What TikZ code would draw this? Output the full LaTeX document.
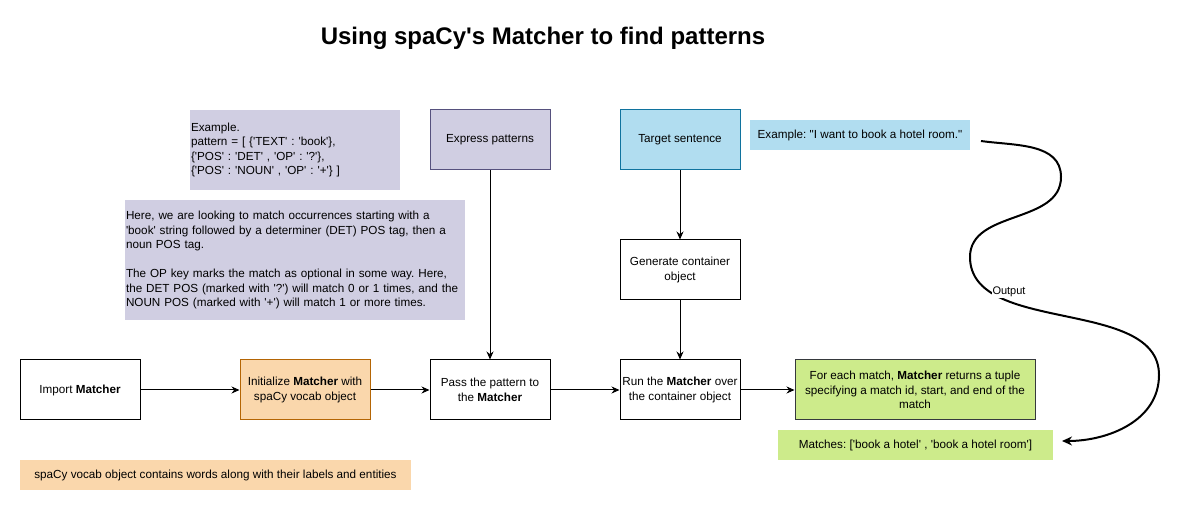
\documentclass[tikz,border=0pt]{standalone}
\usepackage{fontspec}
\setmainfont{Liberation Sans}[Ligatures=TeXOff]
\usetikzlibrary{arrows.meta}
\frenchspacing

\definecolor{purplefill}{HTML}{D0CEE2}
\definecolor{purpleline}{HTML}{56517E}
\definecolor{bluefill}{HTML}{B1DDF0}
\definecolor{blueline}{HTML}{10739E}
\definecolor{orangefill}{HTML}{FAD7AC}
\definecolor{orangeline}{HTML}{B46504}
\definecolor{greenfill}{HTML}{CDEB8B}
\definecolor{greenline}{HTML}{36393D}

\newcommand{\boxfont}{\fontsize{11.7}{14.5}\selectfont}

\begin{document}
\begin{tikzpicture}[x=1pt, y=-1pt,
box/.style = {draw, line width=1pt, minimum width=120pt, minimum height=60pt, inner sep=2pt, align=center, font=\boxfont},
note/.style = {minimum height=30pt, inner sep=2pt, align=center, font=\boxfont},
para/.style = {fill=purplefill, inner xsep=1pt, inner ysep=2pt, align=left, font=\boxfont},
arr/.style = {line width=1pt, -{Stealth[length=8pt,width=7pt]}},
lbl/.style = {fill=white, inner sep=1pt, font=\fontsize{11}{13}\selectfont}
]
\useasboundingbox (0,0) rectangle (1181,510);

\node[font=\fontsize{24}{29}\selectfont\bfseries] (title) at (543,38) {Using spaCy's Matcher to find patterns};

% notes on the pattern
\node[para, minimum width=210pt, minimum height=80pt, text width=208pt] (ex) at (295,150)
{Example.\\ pattern = [ \{'TEXT' : 'book'\},\\ \{'POS' : 'DET' , 'OP' : '?'\},\\ \{'POS' : 'NOUN' , 'OP' : '+'\} ]};
\node[para, minimum width=340pt, minimum height=120pt, text width=338pt] (here) at (295,260)
{Here, we are looking to match occurrences starting with a\\ 'book' string followed by a determiner (DET) POS tag, then a\\ noun POS tag.\\[14.5pt]
The OP key marks the match as optional in some way. Here,\\ the DET POS (marked with '?') will match 0 or 1 times, and the\\ NOUN POS (marked with '+') will match 1 or more times.};

% top row
\node[box, draw=purpleline, fill=purplefill] (expr) at (490,140) {Express patterns};
\node[box, draw=blueline, fill=bluefill] (target) at (680,140) {Target sentence};
\node[note, fill=bluefill, minimum width=220pt] (sent) at (860,135) {Example: "I want to book a hotel room."};
\node[box] (gen) at (680,270) {Generate container\\ object};

% main row
\node[box] (imp) at (80,390) {Import \textbf{Matcher}};
\node[box, draw=orangeline, fill=orangefill, minimum width=130pt] (init) at (305,390) {Initialize \textbf{Matcher} with\\ spaCy vocab object};
\node[box] (pass) at (490,390) {Pass the pattern to\\ the \textbf{Matcher}};
\node[box] (run) at (680,390) {Run the \textbf{Matcher} over\\ the container object};
\node[box, draw=greenline, fill=greenfill, minimum width=240pt] (each) at (915,390) {For each match, \textbf{Matcher} returns a tuple\\ specifying a match id, start, and end of the\\ match};
\node[note, fill=greenfill, minimum width=275pt] (matches) at (915.5,445) {Matches: ['book a hotel' , 'book a hotel room']};
\node[note, fill=orangefill, minimum width=391pt] (vocab) at (215.5,475) {spaCy vocab object contains words along with their labels and entities};

\foreach \i/\j in {imp/init, init/pass, pass/run, run/each}{\draw[arr] (\i) -- (\j);}
\foreach \i/\j in {expr/pass, target/gen, gen/run}{\draw[arr] (\i) -- (\j);}

% output curve
\coordinate (cstart) at (981,141);
\coordinate (cend) at (1062,441);
\draw[line width=2pt, -{Stealth[length=10pt,width=9pt]}] (cstart) to[out=-8,in=90] (1061,177) to[out=-90,in=90] (970,257)
  to[out=-90,in=90, looseness=0.9] (1159,375) to[out=-90,in=0] (cend);
\node[lbl] (out) at (1009,292) {Output};
\end{tikzpicture}
\end{document}
